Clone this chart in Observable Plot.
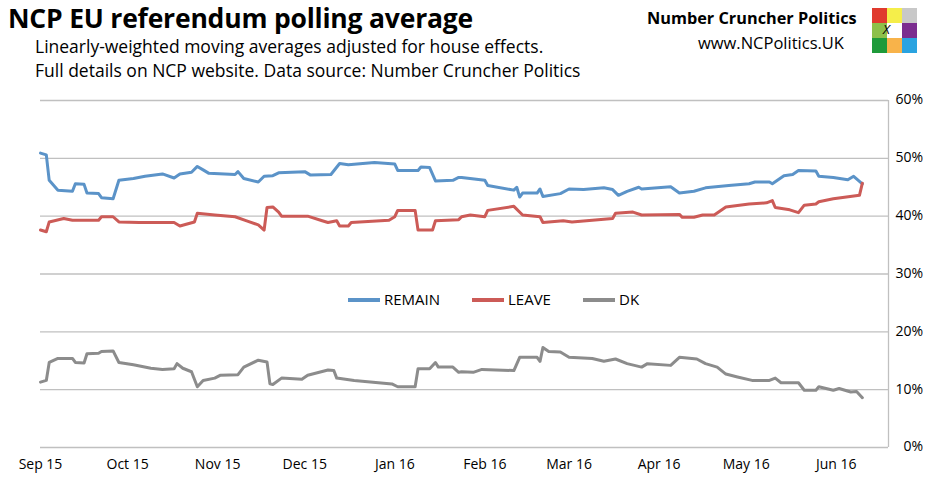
<!DOCTYPE html>
<html><head><meta charset="utf-8">
<script src="https://cdn.jsdelivr.net/npm/d3@7"></script>
<script src="https://cdn.jsdelivr.net/npm/@observablehq/plot@0.6"></script>
<style>
body{margin:0;background:#fff;font-family:"Open Sans",sans-serif;}
#wrap{position:relative;width:945px;height:482px;}
.t{position:absolute;white-space:nowrap;color:#000;line-height:1.15;}
.sw{position:absolute;height:4px;width:32px;}
.sq{position:absolute;width:15px;height:15px;}
</style></head><body>
<div id="wrap"></div>
<script>
// [day offset from 1 Sep 2015, percent]
const remain = [[0,50.9],[2,50.6],[3,46.2],[6,44.5],[11,44.3],[12,45.6],[15,45.5],[16,44],[20,43.9],[21,43.2],[25,43],[27,46.2],[32,46.5],[36,46.9],[42,47.3],[46,46.6],[48,47.3],[52,47.6],[54,48.6],[56,48],[58,47.4],[67,47.2],[68,47.7],[70,46.5],[75,45.9],[77,46.9],[80,47],[82,47.5],[91,47.7],[93,47.1],[100,47.2],[103,49.1],[106,48.9],[115,49.3],[122,49],[123,47.9],[130,47.9],[131,48.5],[134,48.4],[136,46.1],[142,46.2],[144,46.7],[145,46.7],[153,46.2],[154,45.3],[163,44.5],[164,45],[165,43.3],[166,44],[171,44],[172,44.7],[173,43.4],[179,43.9],[182,44.7],[187,44.6],[194,44.9],[197,44.6],[199,43.6],[202,44.3],[206,45],[207,44.7],[217,45.1],[220,44],[225,44.3],[229,44.9],[237,45.3],[244,45.6],[246,45.9],[251,45.9],[252,45.6],[256,47],[259,47.2],[261,47.9],[267,47.8],[268,46.9],[273,46.7],[278,46.3],[280,46.9],[283,45.6]];
const leave = [[0,37.6],[2,37.3],[3,39],[8,39.6],[11,39.3],[20,39.3],[21,39.9],[25,39.9],[27,39],[34,38.9],[46,38.9],[48,38.3],[53,39],[54,40.5],[60,40.2],[67,39.9],[71,39.2],[75,38.5],[77,37.6],[78,41.5],[80,41.6],[82,40.7],[83,40],[92,40],[97,39.2],[99,38.9],[102,39.2],[103,38.3],[106,38.3],[107,38.9],[120,39.3],[122,39.9],[123,41],[129,41],[130,37.6],[135,37.6],[136,39.2],[144,39.4],[145,39.9],[148,40.2],[153,39.9],[154,41],[163,41.7],[166,40.2],[172,39.9],[173,38.9],[180,39.2],[183,39],[197,39.6],[198,40.5],[204,40.7],[207,40.2],[220,40.3],[221,39.8],[225,39.8],[228,40.2],[232,40.2],[236,41.6],[244,42.1],[250,42.3],[252,42.7],[253,41.5],[258,41.1],[261,40.6],[263,41.9],[267,42.1],[268,42.5],[273,43],[282,43.6],[283,45.7]];
const dk = [[0,11.3],[2,11.6],[3,14.7],[6,15.4],[11,15.4],[12,14.7],[15,14.6],[16,16.2],[20,16.3],[21,16.6],[25,16.7],[27,14.7],[32,14.3],[38,13.7],[42,13.5],[46,13.6],[47,14.5],[49,13.7],[52,13.1],[54,10.5],[56,11.6],[60,12],[62,12.5],[68,12.6],[70,13.9],[75,15.1],[78,14.8],[79,11],[80,10.9],[83,12],[90,11.8],[92,12.5],[99,13.4],[101,13.3],[102,12],[108,11.6],[121,11],[123,10.5],[129,10.5],[130,13.6],[134,13.6],[136,14.7],[137,13.9],[142,13.9],[144,13],[145,13.1],[149,13],[152,13.5],[163,13.3],[165,15.6],[171,15.6],[172,14.9],[173,17.3],[175,16.6],[179,16.5],[182,15.6],[190,15.4],[194,14.9],[198,15.3],[202,14.5],[207,13.9],[209,14.5],[217,14.2],[220,15.6],[226,15.3],[229,14.5],[233,13.9],[236,12.7],[240,12.2],[245,11.6],[251,11.6],[253,12],[255,11.2],[261,11.2],[263,9.9],[267,9.9],[268,10.5],[273,9.9],[275,10.2],[279,9.6],[281,9.7],[283,8.6]];
const yTicks = [0,10,20,30,40,50,60];
const start = new Date(Date.UTC(2015,8,1));
const endDate = new Date(Date.UTC(2016,5,19));
const monthTicks = d3.utcMonths(start, endDate);
const series = [["REMAIN",remain,"#5b93c8"],["LEAVE",leave,"#cc5b57"],["DK",dk,"#8c8c8c"]];
const rows = series.flatMap(([name,arr]) => arr.map(([d,v]) => ({name, date:d3.utcDay.offset(start,d), v})));

const chart = Plot.plot({
  width:945, height:482, marginTop:100, marginLeft:40, marginRight:57, marginBottom:35,
  style:{fontFamily:"Open Sans", fontSize:"14px", color:"#000"},
  x:{type:"utc", domain:[start,endDate], ticks:monthTicks, tickFormat:d3.utcFormat("%b %y"), tickSize:0, tickPadding:12, label:null},
  y:{domain:[0,60], ticks:yTicks, tickFormat:d=>d+"%", axis:"right", tickSize:0, tickPadding:17, label:null},
  color:{domain:series.map(s=>s[0]), range:series.map(s=>s[2])},
  marks:[
    Plot.ruleY(yTicks,{stroke:"#c0c0c0", strokeWidth:1.3}),
    Plot.ruleX([endDate],{stroke:"#c0c0c0", strokeWidth:1.3}),
    Plot.lineY(rows,{x:"date", y:"v", z:"name", stroke:"name", strokeWidth:3})
  ]
});
const wrap = document.getElementById("wrap");
wrap.appendChild(chart);
chart.querySelectorAll("g[aria-label='y-axis tick label'] text, g[aria-label='y-axis tick label']").forEach(e=>e.setAttribute("text-anchor","end"));
const yl = chart.querySelector("g[aria-label='y-axis tick label']");
if (yl) yl.setAttribute("transform","translate(35,0)");
function addText(txt,x,y,css){const d=document.createElement("div");d.className="t";d.textContent=txt;d.style.left=x+"px";d.style.top=y+"px";Object.assign(d.style,css||{});wrap.appendChild(d);return d;}
addText("NCP EU referendum polling average",8,3,{fontSize:"26.5px",fontWeight:"bold",letterSpacing:"-0.2px",lineHeight:"30px"});
addText("Linearly-weighted moving averages adjusted for house effects.",35,36,{fontSize:"17.5px"});
addText("Full details on NCP website. Data source: Number Cruncher Politics",35,60,{fontSize:"17.5px"});
addText("Number Cruncher Politics",647,9,{fontSize:"16.3px",fontWeight:"bold"});
addText("www.NCPolitics.UK",698,34,{fontSize:"16.5px"});
const sq=[["#e03a2e","#f5ee4a","#c8c8c8"],["#8dc04a","#fff","#7b2d8f"],["#1e9a3a","#f8b34a","#2aa3e0"]];
sq.forEach((r,i)=>r.forEach((c,j)=>{const s=document.createElement("div");s.className="sq";s.style.background=c;s.style.left=(872+j*15)+"px";s.style.top=(8+i*15)+"px";wrap.appendChild(s);}));
addText("X",883,22,{fontSize:"13px",fontStyle:"italic"});
const leg=[["REMAIN",348,"#5b93c8"],["LEAVE",472,"#cc5b57"],["DK",583,"#8c8c8c"]];
leg.forEach(([n,x,c])=>{const s=document.createElement("div");s.className="sw";s.style.left=x+"px";s.style.top="298px";s.style.background=c;wrap.appendChild(s);addText(n,x+36,291,{fontSize:"15px"});});
</script></body></html>
